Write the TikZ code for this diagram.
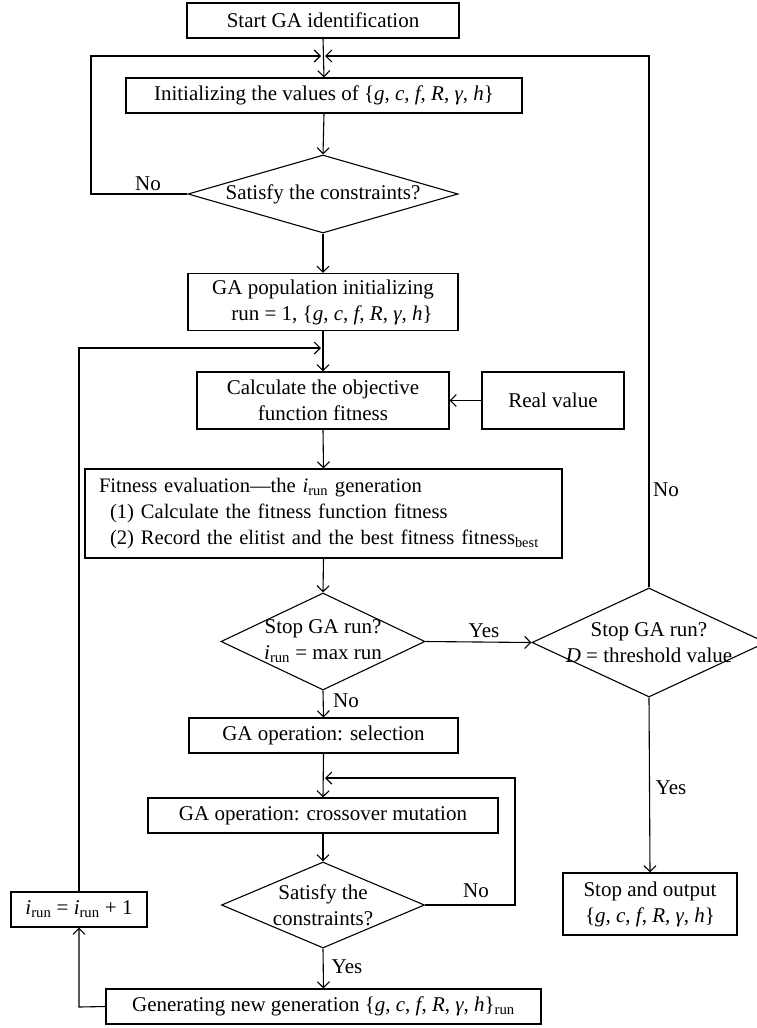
\documentclass[tikz,border=0pt]{standalone}
\usepackage{fontspec}
\setmainfont{Liberation Serif}
\usetikzlibrary{shapes.geometric,arrows.meta}
\newcommand{\GAset}{\{\textit{g}, \textit{c}, \textit{f}, \textit{R}, \textit{γ}, \textit{h}\}}
\newcommand{\irun}{\textit{i}\textsubscript{run}}
\begin{document}
\begin{tikzpicture}[x=1pt,y=-1pt,
  font=\fontsize{21}{26}\selectfont,
  box/.style={draw,line width=1.1pt,rectangle,inner sep=0pt,align=center},
  dia/.style={draw,line width=1.1pt,diamond,inner sep=0pt},
  txt/.style={inner sep=0pt,align=center},
  lbl/.style={inner sep=0pt},
  arr/.style={line width=1.1pt,-{Straight Barb[length=6pt,width=12pt]}}]
\useasboundingbox (0,0) rectangle (757,1028);

% boxes
\node[box,minimum width=272pt,minimum height=35pt] (start) at (323,20.5) {Start GA identification};
\node[box,minimum width=396pt,minimum height=35pt] (init) at (324,95.5) {Initializing the values of \GAset};
\node[dia,minimum width=270pt,minimum height=78pt] (d1) at (323,194) {};
\node[txt] (d1t) at (d1.center) {Satisfy the constraints?};
\node[box,minimum width=270pt,minimum height=57pt] (pop) at (323,302) {GA population initializing\\ \hspace*{18pt}run = 1, \GAset};
\node[box,minimum width=252pt,minimum height=57pt] (calc) at (323,400.5) {Calculate the objective\\function fitness};
\node[box,minimum width=142pt,minimum height=57pt] (real) at (553,400.5) {Real value};
\node[box,minimum height=89pt,inner xsep=14pt,text width=449pt,align=left,
      font=\fontsize{20.6}{26}\selectfont] (fit) at (323.5,513.5) {Fitness evaluation—the \irun{} generation\\
\hspace*{11pt}(1) Calculate the fitness function fitness\\
\hspace*{11pt}(2) Record the elitist and the best fitness fitness\textsubscript{best}};
\node[dia,minimum width=204pt,minimum height=97pt] (d2) at (323,641.5) {};
\node[txt] (d2t) at (d2.center) {Stop GA run?\\\irun{} = max run};
\node[dia,minimum width=234pt,minimum height=109pt] (dR) at (649,642.5) {};
\node[txt] (dRt) at (dR.center) {Stop GA run?\\\textit{D} = threshold value};
\node[box,minimum width=269pt,minimum height=35pt] (sel) at (323.5,735.5) {GA operation: selection};
\node[box,minimum width=350pt,minimum height=35pt] (cross) at (323,815.5) {GA operation: crossover mutation};
\node[dia,minimum width=203pt,minimum height=86pt] (d3) at (323,905) {};
\node[txt] (d3t) at (d3.center) {Satisfy the\\constraints?};
\node[box,minimum width=435pt,minimum height=35pt] (gen) at (323.5,1006.5) {Generating new generation \GAset\textsubscript{run}};
\node[box,minimum width=136pt,minimum height=35pt] (inc) at (79,909.5) {\irun{} = \irun{} + 1};
\node[box,minimum width=174pt,minimum height=62pt] (stop) at (650,904) {Stop and output\\\GAset};

% junction coordinates
\coordinate (j1) at (323,56);
\coordinate (j2) at (323,348);
\coordinate (j3) at (323,778);

% connectors
\draw[arr] (start.south) -- (init.north);
\draw[arr] (d1.west) -- (91,194) -- (91,56) -- ([xshift=-2pt]j1);
\draw[arr] (dR.north) -- (649,56) -- ([xshift=2pt]j1);
\draw[arr] (init.south) -- (d1.north);
\draw[arr] (d1.south) -- (pop.north);
\draw[arr] (pop.south) -- (calc.north);
\draw[arr] (inc.north) -- (79,348) -- ([xshift=-2pt]j2);
\draw[arr] (real.west) -- (calc.east);
\draw[arr] (calc.south) -- (fit.north);
\draw[arr] (fit.south) -- (d2.north);
\draw[arr] (d2.east) -- (dR.west);
\draw[arr] (dR.south) -- (stop.north);
\draw[arr] (d2.south) -- (sel.north);
\draw[arr] (sel.south) -- (cross.north);
\draw[arr] (d3.east) -- (515,905) -- (515,778) -- ([xshift=2pt]j3);
\draw[arr] (cross.south) -- (d3.north);
\draw[arr] (d3.south) -- (gen.north);
\draw[arr] (gen.west) -- (79,1007) -- (inc.south);

% labels
\node[lbl] (no1) at (148,184) {No};
\node[lbl] (noR) at (666,490) {No};
\node[lbl] (yes1) at (484,631) {Yes};
\node[lbl] (yesR) at (671,788) {Yes};
\node[lbl] (no2) at (346,701) {No};
\node[lbl] (no3) at (476,891) {No};
\node[lbl] (yes3) at (347,967) {Yes};
\end{tikzpicture}
\end{document}
